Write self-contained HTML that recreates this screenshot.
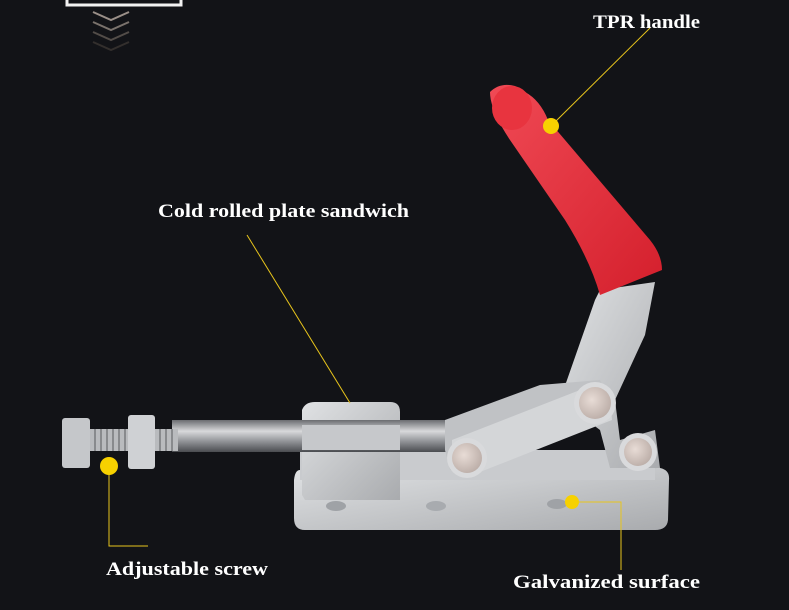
<!DOCTYPE html>
<html><head><meta charset="utf-8"><style>
html,body{margin:0;padding:0;background:#121317;}
svg{display:block}
text{font-family:"Liberation Serif",serif;font-weight:bold;fill:#fff;font-size:19px}
</style></head><body>
<svg width="789" height="610" viewBox="0 0 789 610" xmlns="http://www.w3.org/2000/svg">
<defs>
<linearGradient id="rod" x1="0" y1="0" x2="0" y2="1"><stop offset="0" stop-color="#6a6c70"/><stop offset=".35" stop-color="#d8d9db"/><stop offset=".7" stop-color="#8a8c90"/><stop offset="1" stop-color="#4a4c50"/></linearGradient>
<linearGradient id="met" x1="0" y1="0" x2="1" y2="1"><stop offset="0" stop-color="#e0e2e4"/><stop offset="1" stop-color="#a9abae"/></linearGradient>
<radialGradient id="pin" cx=".4" cy=".4" r=".7"><stop offset="0" stop-color="#e8dcd6"/><stop offset="1" stop-color="#b8aaa4"/></radialGradient>
<linearGradient id="red" x1="0" y1="0" x2="1" y2="1"><stop offset="0" stop-color="#f04a55"/><stop offset="1" stop-color="#d41f2c"/></linearGradient>
</defs>
<rect width="789" height="610" fill="#121317"/>
<rect x="67" y="-4" width="114" height="9" fill="none" stroke="#f2f2f2" stroke-width="3"/>
<g fill="none" stroke-width="2">
<polyline points="93,12 111,20 129,12" stroke="#9a8f88"/>
<polyline points="93,22 111,30 129,22" stroke="#7a726c"/>
<polyline points="93,32 111,40 129,32" stroke="#524c48"/>
<polyline points="93,42 111,50 129,42" stroke="#332f2d"/>
</g>
<path d="M300,470 L660,468 Q670,470 669,480 L668,520 Q667,530 655,530 L305,530 Q294,530 294,518 L294,480 Q295,470 300,470Z" fill="url(#met)"/>
<rect x="300" y="450" width="355" height="30" fill="#c9cbce"/>
<ellipse cx="336" cy="506" rx="10" ry="5" fill="#9fa2a6"/>
<ellipse cx="557" cy="504" rx="10" ry="5" fill="#9fa2a6"/>
<ellipse cx="436" cy="506" rx="10" ry="5" fill="#a8abaf"/>
<path d="M302,410 Q305,402 315,402 L390,402 Q400,402 400,412 L400,500 L305,500 L302,495Z" fill="url(#met)"/>
<rect x="172" y="420" width="300" height="32" fill="url(#rod)"/>
<rect x="302" y="425" width="98" height="25" fill="#c6c8cb"/>
<rect x="88" y="429" width="90" height="22" fill="#b9bbbe"/>
<g stroke="#77797d" stroke-width="1.5">
<line x1="95" y1="429" x2="95" y2="451"/><line x1="101" y1="429" x2="101" y2="451"/><line x1="107" y1="429" x2="107" y2="451"/><line x1="113" y1="429" x2="113" y2="451"/><line x1="119" y1="429" x2="119" y2="451"/><line x1="125" y1="429" x2="125" y2="451"/><line x1="160" y1="429" x2="160" y2="451"/><line x1="166" y1="429" x2="166" y2="451"/><line x1="172" y1="429" x2="172" y2="451"/>
</g>
<rect x="62" y="418" width="28" height="50" rx="3" fill="#c5c7ca"/>
<rect x="128" y="415" width="27" height="54" rx="3" fill="#cfd1d4"/>
<path d="M560,400 L595,300 L600,290 L655,282 L645,335 L615,400 L620,440 L655,430 L660,468 L610,468 L600,430 Z" fill="url(#met)"/>
<path d="M445,420 L540,385 L600,380 L612,410 L580,430 L480,470 L450,470 L445,450Z" fill="#c0c2c5"/>
<path d="M452,440 L580,390 L610,395 L612,420 L480,472 L452,468Z" fill="#d4d6d8"/>
<path d="M490,92 Q500,82 515,86 L525,92 Q540,100 548,120 L650,240 Q662,255 662,270 L600,295 Q590,260 565,220 L510,140 Q490,110 490,92Z" fill="url(#red)"/>
<ellipse cx="512" cy="108" rx="20" ry="22" fill="#e8343f"/>
<circle cx="467" cy="458" r="20" fill="#d9dadc"/><circle cx="467" cy="458" r="15" fill="url(#pin)"/>
<circle cx="595" cy="403" r="21" fill="#d9dadc"/><circle cx="595" cy="403" r="16" fill="url(#pin)"/>
<circle cx="638" cy="452" r="19" fill="#d9dadc"/><circle cx="638" cy="452" r="14" fill="url(#pin)"/>
<g stroke="#e8c51c" stroke-width="1" fill="none">
<line x1="551" y1="126" x2="650" y2="28"/>
<line x1="247" y1="235" x2="350" y2="403"/>
<polyline points="109,466 109,546 148,546"/>
<polyline points="572,502 621,502 621,570"/>
</g>
<g fill="#f7d100">
<circle cx="551" cy="126" r="8"/>
<circle cx="109" cy="466" r="9"/>
<circle cx="572" cy="502" r="7"/>
</g>
<text x="593" y="28" textLength="107" lengthAdjust="spacingAndGlyphs">TPR handle</text>
<text x="158" y="217" textLength="251" lengthAdjust="spacingAndGlyphs">Cold rolled plate sandwich</text>
<text x="106" y="575" textLength="162" lengthAdjust="spacingAndGlyphs">Adjustable screw</text>
<text x="513" y="588" textLength="187" lengthAdjust="spacingAndGlyphs">Galvanized surface</text>
</svg>
</body></html>
